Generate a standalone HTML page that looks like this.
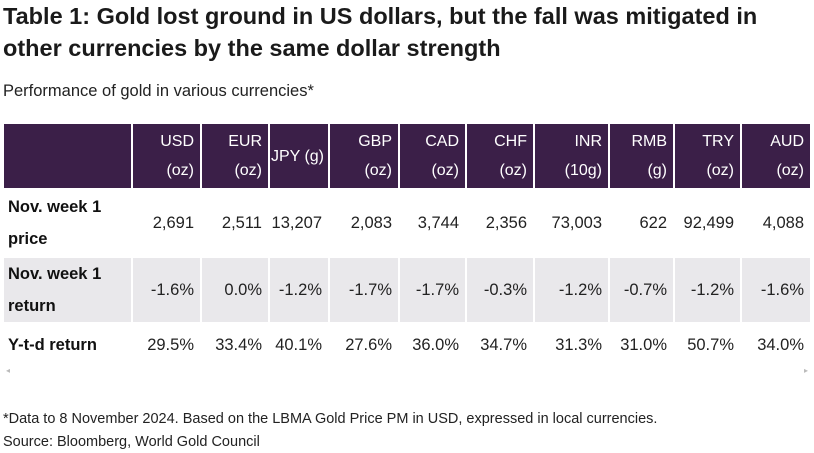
<!DOCTYPE html>
<html><head><meta charset="utf-8"><style>
body{margin:0;width:814px;height:453px;background:#fff;font-family:"Liberation Sans",sans-serif;color:#222;position:relative;overflow:hidden}
.t{position:absolute;left:3px;top:0px;font-weight:bold;font-size:23.5px;line-height:32px;color:#1a1a1a;white-space:nowrap}
.s{position:absolute;left:3px;top:82px;font-size:16.5px;color:#222}
.f{position:absolute;left:3px;font-size:14.5px;color:#222;white-space:nowrap}
.c{position:absolute;box-sizing:border-box;text-align:right;padding-right:6px;font-size:16.5px;display:flex;flex-direction:column;justify-content:center;align-items:flex-end;white-space:nowrap}
.h{background:#3b1f48;color:#fff;line-height:29px;font-size:16px}
.g{background:#e9e8eb}
.lab{align-items:flex-start;text-align:left;padding-left:4px;font-weight:bold;color:#111;line-height:32px}
</style></head><body>
<div class="t">Table 1: Gold lost ground in US dollars, but the fall was mitigated in<br>other currencies by the same dollar strength</div>
<div class="s">Performance of gold in various currencies*</div>
<div id="tb"></div>
<div style="position:absolute;left:6px;top:366px;font-size:8px;color:#bbb">◂</div>
<div style="position:absolute;left:804px;top:366px;font-size:8px;color:#bbb">▸</div>
<div class="f" style="top:411px">*Data to 8 November 2024. Based on the LBMA Gold Price PM in USD, expressed in local currencies.</div>
<div class="f" style="top:434px">Source: Bloomberg, World Gold Council</div>
<script>
var cols=[[4,131],[133,200],[202,268],[270,328],[330,398],[400,465],[467,533],[535,608],[610,673],[675,740],[742,810]];
var hd=["","USD<br>(oz)","EUR<br>(oz)","JPY (g)","GBP<br>(oz)","CAD<br>(oz)","CHF<br>(oz)","INR<br>(10g)","RMB<br>(g)","TRY<br>(oz)","AUD<br>(oz)"];
var r1=["Nov. week 1<br>price","2,691","2,511","13,207","2,083","3,744","2,356","73,003","622","92,499","4,088"];
var r2=["Nov. week 1<br>return","-1.6%","0.0%","-1.2%","-1.7%","-1.7%","-0.3%","-1.2%","-0.7%","-1.2%","-1.6%"];
var r3=["Y-t-d return","29.5%","33.4%","40.1%","27.6%","36.0%","34.7%","31.3%","31.0%","50.7%","34.0%"];
var rows=[[hd,124,64,"h"],[r1,190,66,""],[r2,258,64,"g"],[r3,324,42,""]];
var o="";
rows.forEach(function(r){cols.forEach(function(c,i){
var cl="c "+r[3]+(i==0&&r[3]!="h"?" lab":"");
var pad=(r[3]=="h"&&i==3)?"padding-right:4px;":"";
o+='<div class="'+cl+'" style="'+pad+'left:'+c[0]+'px;top:'+r[1]+'px;width:'+(c[1]-c[0])+'px;height:'+r[2]+'px"><div>'+r[0][i]+'</div></div>';});});
document.getElementById("tb").innerHTML=o;
</script>
</body></html>
